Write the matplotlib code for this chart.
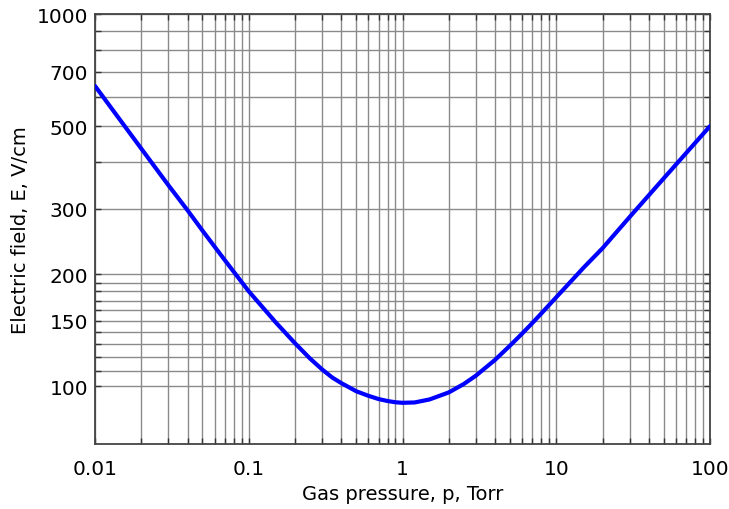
import matplotlib
matplotlib.use("Agg")
import matplotlib.pyplot as plt
from matplotlib.ticker import FixedLocator, NullFormatter, LogLocator
import numpy as np

# values
pressure = [0.01, 0.02, 0.03, 0.04, 0.05, 0.07, 0.1, 0.15, 0.2, 0.25, 0.3, 0.35,
            0.4, 0.5, 0.6, 0.7, 0.8, 0.9, 1.0, 1.2, 1.5, 2, 2.5, 3, 4, 5, 6, 7, 8,
            10, 15, 20, 30, 50, 100]
field = [641, 435, 347, 297, 262, 218, 180, 148.4, 130.5, 118.8, 111, 105.5,
         102, 97, 94.3, 92.4, 91.3, 90.6, 90.3, 90.5, 92.2, 96.3, 101.4, 106.8,
         117.8, 128.6, 138.6, 148, 157, 173.5, 208, 235, 285, 362, 500]

y_labels = [100, 150, 200, 300, 500, 700, 1000]
y_grid = [110, 120, 130, 140, 160, 170, 180, 190, 400, 600, 800, 900]
x_labels = [0.01, 0.1, 1, 10, 100]
x_label_text = ["0.01", "0.1", "1", "10", "100"]

fig = plt.figure(figsize=(7.29, 5.10), dpi=100)
ax = fig.add_axes([0.1303, 0.1275, 0.8437, 0.843])

ax.plot(pressure, field, color="#0000ff", lw=3.0, solid_capstyle="round",
        solid_joinstyle="round", zorder=3)

ax.set_xscale("log")
ax.set_yscale("log")
ax.set_xlim(0.01, 100)
ax.set_ylim(70, 1000)

ax.xaxis.set_major_locator(FixedLocator(x_labels))
ax.set_xticklabels(x_label_text)
ax.xaxis.set_minor_locator(LogLocator(base=10, subs=np.arange(2, 10), numticks=20))
ax.xaxis.set_minor_formatter(NullFormatter())

ax.yaxis.set_major_locator(FixedLocator(y_labels))
ax.set_yticklabels([str(v) for v in y_labels])
ax.yaxis.set_minor_locator(FixedLocator(y_grid))
ax.yaxis.set_minor_formatter(NullFormatter())

ax.grid(True, which="both", color="#8a8a8a", lw=1.0)
ax.set_axisbelow(True)

for s in ax.spines.values():
    s.set_color("#444444")
    s.set_linewidth(1.3)

ax.tick_params(which="both", direction="in", top=True, right=True,
               length=4, width=1.0, color="#333333", labelsize=14.5)
ax.tick_params(axis="x", pad=11)
ax.tick_params(axis="y", pad=5)

ax.set_xlabel("Gas pressure, p, Torr", fontsize=14, labelpad=4)
ax.set_ylabel("Electric field, E, V/cm", fontsize=14, labelpad=5)

fig.savefig("out.png", dpi=100)
